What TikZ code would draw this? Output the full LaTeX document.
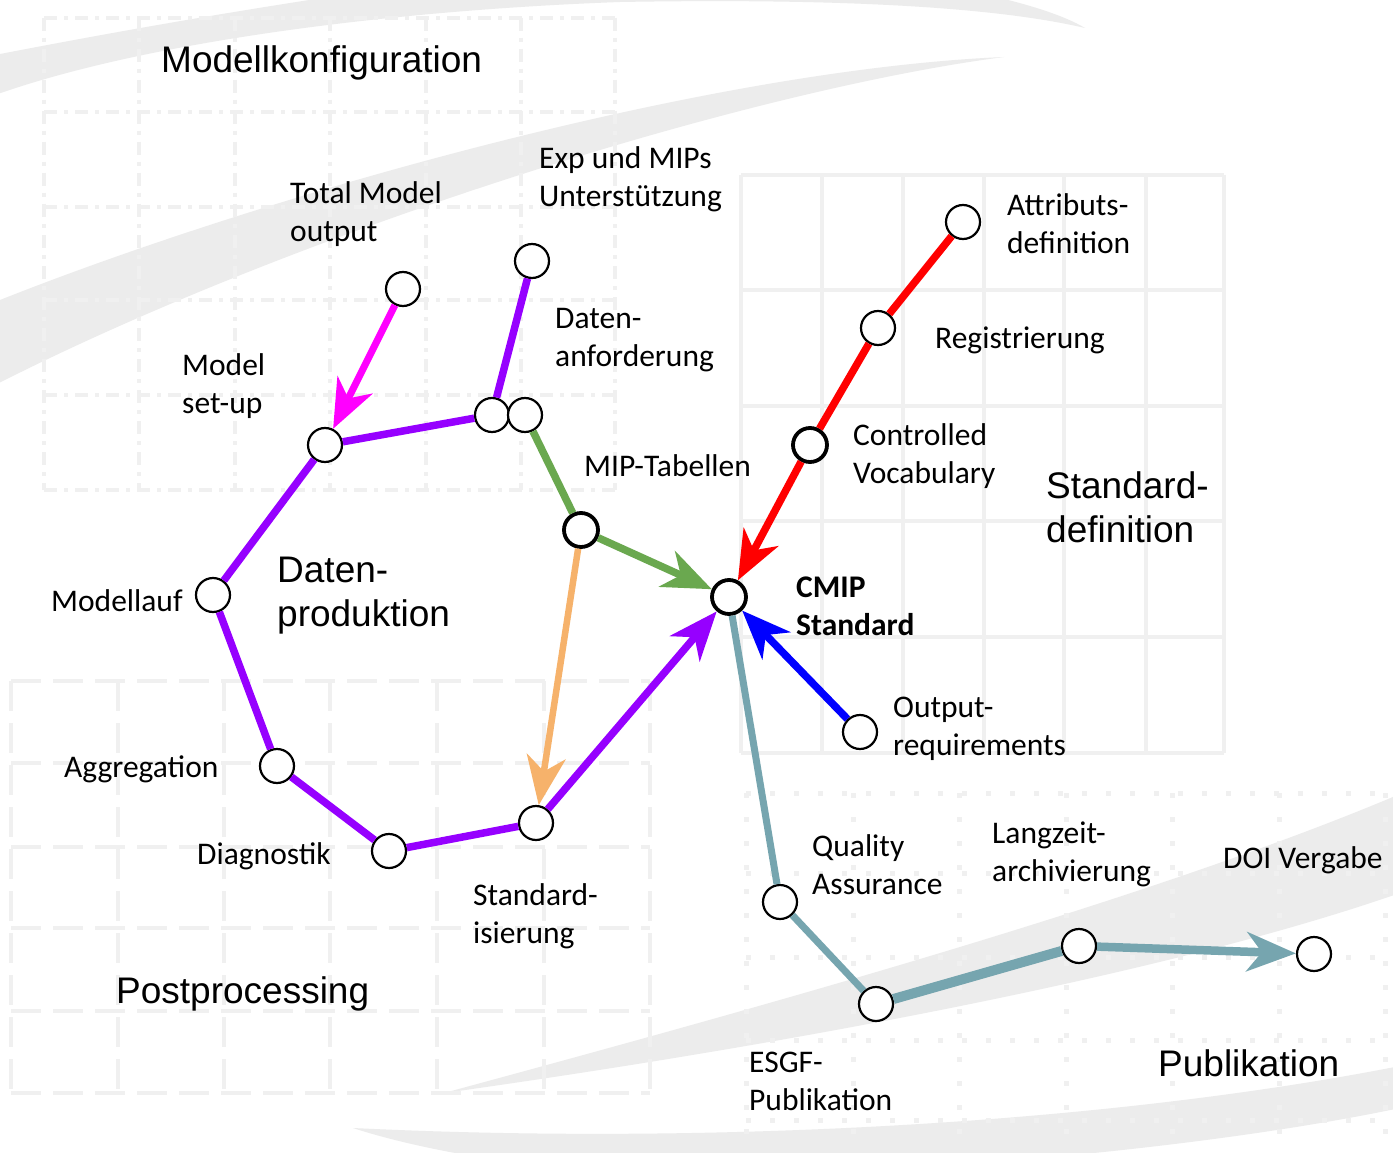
\documentclass[tikz,border=0pt]{standalone}
\usepackage{fontspec}
\setmainfont{Carlito}
\newfontfamily\titlefont{Liberation Sans}
\usetikzlibrary{arrows.meta}
\definecolor{cpurple}{RGB}{150,0,255}
\definecolor{cmagenta}{RGB}{255,0,255}
\definecolor{cgreen}{RGB}{106,168,79}
\definecolor{corange}{RGB}{246,178,107}
\definecolor{cred}{RGB}{255,0,0}
\definecolor{cblue}{RGB}{0,0,255}
\definecolor{cteal}{RGB}{118,165,175}
\definecolor{swooshc}{RGB}{236,236,236}
\definecolor{gridc}{RGB}{240,240,240}
\tikzset{
  station/.style={circle, draw=black, fill=white, line width=2.2pt, minimum size=34pt, inner sep=0pt},
  bigstation/.style={station, line width=3.8pt},
  lbl/.style={font=\fontsize{31.5}{38}\selectfont, align=left, anchor=west, inner sep=0pt},
  boldlbl/.style={lbl, font=\fontsize{31.5}{38}\selectfont\bfseries},
  title/.style={font=\titlefont\fontsize{37}{44}\selectfont, align=left, anchor=west, inner sep=0pt},
  arrowhd/.style={-{Stealth[length=49pt,width=39pt,inset=15pt]}},
  pedge/.style={draw=cpurple, line width=7.5pt},
  gedge/.style={draw=cgreen, line width=7.5pt},
  redge/.style={draw=cred, line width=7.5pt},
  tedge/.style={draw=cteal, line width=7pt},
  dashgrid/.style={draw=gridc, line width=4pt, dash pattern=on 13pt off 7pt on 4pt off 7pt},
  dashgridb/.style={draw=gridc, line width=4pt, dash pattern=on 30pt off 12pt},
  solidgrid/.style={draw=gridc, line width=4pt},
  dotgrid/.style={draw=gridc, line width=5pt, dash pattern=on 5pt off 19pt},
}
\begin{document}
\begin{tikzpicture}[x=1pt,y=-1pt]
\useasboundingbox (0,0) rectangle (1393,1153);
\fill[white] (0,0) rectangle (1393,1153);
\begin{scope}
\clip (0,0) rectangle (1393,1153);
% swooshes
\fill[swooshc] (-5,55) .. controls (150,25) and (350,-10) .. (600,-40)
  .. controls (850,-40) and (1030,-5) .. (1085,28)
  .. controls (1000,8) and (850,-2) .. (620,2)
  .. controls (400,10) and (150,40) .. (-5,95) -- cycle;
\fill[swooshc] (-5,302) .. controls (250,200) and (700,70) .. (1004,57)
  .. controls (750,90) and (300,230) .. (-5,385) -- cycle;
\fill[swooshc] (444,1093) .. controls (750,1010) and (1150,900) .. (1400,794)
  -- (1400,893) .. controls (1150,980) and (750,1050) .. (444,1093) -- cycle;
\fill[swooshc] (353,1128) .. controls (700,1145) and (1100,1125) .. (1400,1066)
  -- (1400,1108) .. controls (1200,1150) and (900,1175) .. (700,1175)
  .. controls (550,1175) and (420,1150) .. (353,1128) -- cycle;
% top-left dashed grid
\foreach \x in {44,139,235,330,426,521,615} \draw[dashgrid] (\x,18) -- (\x,490);
\foreach \y in {18,112,207,300,395,490} \draw[dashgrid] (44,\y) -- (615,\y);
% right solid grid
\foreach \x in {741,822,903,984,1064,1146,1224} \draw[solidgrid] (\x,175) -- (\x,753);
\foreach \y in {175,290,406,521,637,753} \draw[solidgrid] (741,\y) -- (1224,\y);
% bottom-left dashed grid
\foreach \x in {11,118,224,330,437,544,650} \draw[dashgridb] (\x,681) -- (\x,1093);
\foreach \y in {681,763,847,928,1011,1093} \draw[dashgridb] (11,\y) -- (650,\y);
% bottom-right dotted grid
\foreach \x in {746,853,959,1066,1172,1279,1385} \draw[dotgrid] (\x,793) -- (\x,1153);
\foreach \y in {793,873,957,1040,1120} \draw[dotgrid] (746,\y) -- (1393,\y);
\end{scope}

% stations
\node[station] (tmo) at (403,289) {};
\node[station] (exp) at (532,261) {};
\node[station] (msu) at (325,445) {};
\node[station] (da1) at (492,415) {};
\node[station] (da2) at (525,415) {};
\node[bigstation] (mip) at (581,530) {};
\node[bigstation] (cmip) at (729,597) {};
\node[station] (ml) at (213,595) {};
\node[station] (agg) at (277,766) {};
\node[station] (diag) at (389,851) {};
\node[station] (std) at (536,823) {};
\node[station] (attr) at (963,222) {};
\node[station] (reg) at (878,328) {};
\node[bigstation] (cv) at (810,445) {};
\node[station] (out) at (860,732) {};
\node[station] (qa) at (780,902) {};
\node[station] (esgf) at (876,1004) {};
\node[station] (lang) at (1079,946) {};
\node[station] (doi) at (1314,954) {};

% connectors
\draw[draw=cmagenta, line width=7pt, arrowhd, cmagenta] (tmo) -- (msu);
\draw[pedge] (exp) -- (da1);
\draw[pedge] (msu) -- (da1);
\draw[pedge] (msu) -- (ml);
\draw[pedge] (ml) -- (agg);
\draw[pedge] (agg) -- (diag);
\draw[pedge] (diag) -- (std);
\draw[pedge, arrowhd, cpurple] (std) -- (cmip);
\draw[gedge] (da2) -- (mip);
\draw[gedge, arrowhd, cgreen] (mip) -- (cmip);
\draw[draw=corange, line width=6.5pt, arrowhd, corange] (mip) -- (std);
\draw[redge] (attr) -- (reg);
\draw[redge] (reg) -- (cv);
\draw[redge, arrowhd, cred] (cv) -- (cmip);
\draw[draw=cblue, line width=7.5pt, arrowhd, cblue] (out) -- (cmip);
\draw[tedge] (cmip) -- (qa);
\draw[tedge] (qa) -- (esgf);
\draw[tedge, line width=10pt] (esgf) -- (lang);
\draw[tedge, line width=8.5pt, arrowhd, cteal] (lang) -- (doi);

% region titles
\node[title] (t1) at (161,63) {Modellkonfiguration};
\node[title] (t2) at (277,596) {Daten-\\produktion};
\node[title] (t3) at (1046,507) {Standard-\\definition};
\node[title] (t4) at (116,994) {Postprocessing};
\node[title] (t5) at (1158,1063) {Publikation};

% labels
\node[lbl] (l1) at (290,214) {Total Model\\output};
\node[lbl] (l2) at (539,179) {Exp und MIPs\\Unterstützung};
\node[lbl] (l3) at (555,340) {Daten-\\anforderung};
\node[lbl] (l4) at (182,386) {Model\\set-up};
\node[lbl] (l5) at (584,466) {MIP-Tabellen};
\node[lbl] (l6) at (51,601) {Modellauf};
\node[lbl] (l7) at (64,769) {Aggregation};
\node[lbl] (l8) at (197,856) {Diagnostik};
\node[lbl] (l9) at (473,916) {Standard-\\isierung};
\node[lbl] (l10) at (1007,224) {Attributs-\\definition};
\node[lbl] (l11) at (935,340) {Registrierung};
\node[lbl] (l12) at (853,456) {Controlled\\Vocabulary};
\node[boldlbl] (l13) at (796,606) {CMIP\\Standard};
\node[lbl] (l14) at (893,729) {Output-\\requirements};
\node[lbl] (l15) at (812,865) {Quality\\Assurance};
\node[lbl] (l16) at (992,854) {Langzeit-\\archivierung};
\node[lbl] (l17) at (1223,860) {DOI Vergabe};
\node[lbl] (l18) at (749,1081) {ESGF-\\Publikation};
\end{tikzpicture}
\end{document}
